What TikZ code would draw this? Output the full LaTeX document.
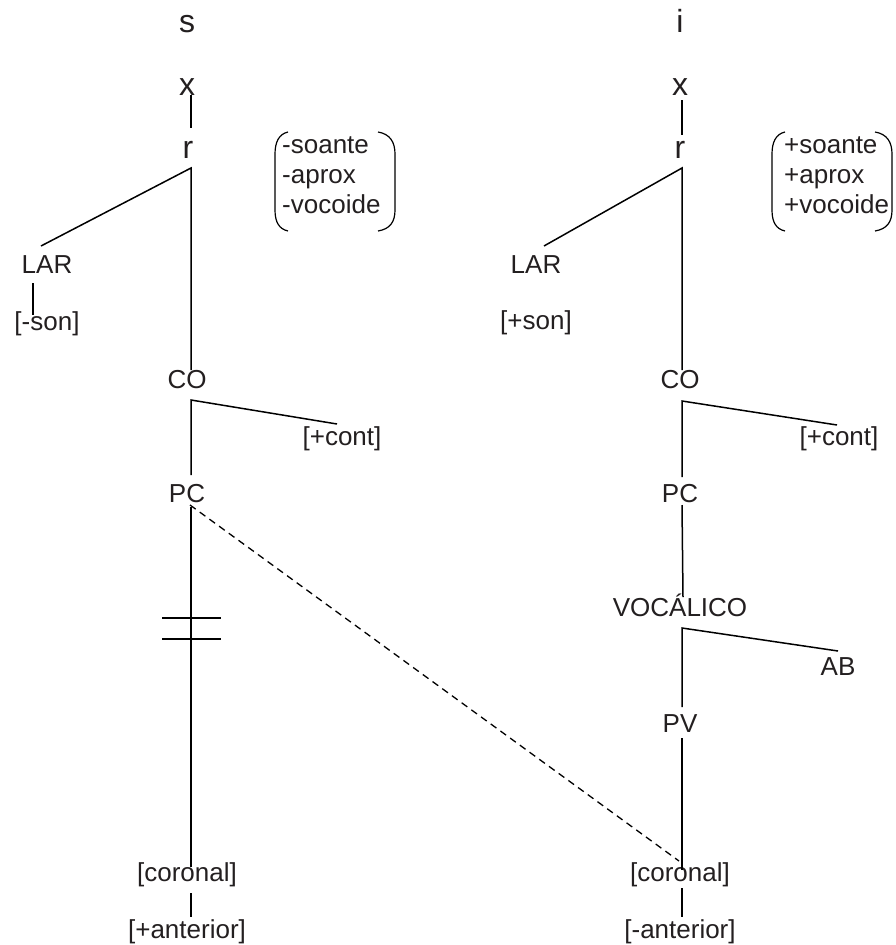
\documentclass[tikz,border=0pt]{standalone}
\usepackage{fontspec}
\setmainfont{Liberation Sans}

\definecolor{tinta}{HTML}{231F20}
\tikzset{
  seg/.style={font=\fontsize{32}{36}\selectfont, inner sep=0, anchor=base, text=tinta},
  traco/.style={font=\fontsize{26}{30}\selectfont, inner sep=0, anchor=base, text=tinta},
  ramo/.style={line width=1.5pt, line join=miter},
}

\begin{document}
\begin{tikzpicture}[x=1pt,y=-1pt]
\useasboundingbox (0,0) rectangle (896,945);

% Segmentos e esqueleto
\node[seg] (sl) at (187,32) {s};
\node[seg] (si) at (680,32) {i};
\node[seg] (xl) at (187,95) {x};
\node[seg] (xr) at (680,95) {x};
\node[seg] (rl) at (188,158) {r};
\node[seg] (rr) at (680,158) {r};

% Tracos de raiz entre parenteses
\node[traco, anchor=base west] (raizl) at (282,153) {\begin{tabular}[t]{@{}l@{}}-soante\\-aprox\\-vocoide\end{tabular}};
\node[traco, anchor=base west] (raizr) at (784,153) {\begin{tabular}[t]{@{}l@{}}+soante\\+aprox\\+vocoide\end{tabular}};
\foreach \a/\b in {275/395,772/892}{
\draw[line width=1.2pt] (\a+13,132) .. controls (\a+4,134) and (\a,142) .. (\a,154) -- (\a,210) .. controls (\a,222) and (\a+4,229) .. (\a+13,231);
\draw[line width=1.2pt] (\b-17,132) .. controls (\b-5,134) and (\b,142) .. (\b,154) -- (\b,210) .. controls (\b,222) and (\b-5,229) .. (\b-17,231);
}

% Arvore de s
\node[traco] (larl) at (47,273) {LAR};
\node[traco] (sonl) at (47,330) {[-son]};
\node[traco] (col) at (187,388) {CO};
\node[traco] (contl) at (342,445) {[+cont]};
\node[traco] (pcl) at (187,502) {PC};
\node[traco] (coronl) at (187,881) {[coronal]};
\node[traco] (antl) at (187,938) {[+anterior]};

\draw[ramo] ([shift={(4,0)}]xl.base) -- ([shift={(3,-30)}]rl.base);
\draw[ramo] ([shift={(-6,-27)}]larl.base) -- ([shift={(3,10)}]rl.base) -- ([shift={(4,-18)}]col.base);
\draw[ramo] ([shift={(-14,10)}]larl.base) -- ([shift={(-14,-15)}]sonl.base);
\draw[ramo] ([shift={(-5,-21)}]contl.base) -- ([shift={(4,12)}]col.base) -- ([shift={(4,-27)}]pcl.base);
\draw[ramo] ([shift={(4,5)}]pcl.base) -- ([shift={(4,-14)}]coronl.base);
\draw[ramo] ([shift={(4,12)}]coronl.base) -- ([shift={(4,-21)}]antl.base);

% Desligamento
\draw[ramo] (162,618) -- (221,618);
\draw[ramo] (162,639) -- (221,639);

% Arvore de i
\node[traco] (larr) at (536,273) {LAR};
\node[traco] (sonr) at (536,329) {[+son]};
\node[traco] (cor) at (680,388) {CO};
\node[traco] (contr) at (839,445) {[+cont]};
\node[traco] (pcr) at (680,502) {PC};
\node[traco] (vocr) at (680,616) {VOCÁLICO};
\node[traco] (abr) at (838,675) {AB};
\node[traco] (pvr) at (680,732) {PV};
\node[traco] (coronr) at (680,881) {[coronal]};
\node[traco] (antr) at (680,938) {[-anterior]};

\draw[ramo] ([shift={(2,5)}]xr.base) -- ([shift={(2,-23)}]rr.base);
\draw[ramo] ([shift={(8,-27)}]larr.base) -- ([shift={(2,10)}]rr.base) -- ([shift={(2,-18)}]cor.base);
\draw[ramo] ([shift={(-2,-20)}]contr.base) -- ([shift={(2,13)}]cor.base) -- ([shift={(2,-25)}]pcr.base);
\draw[ramo] ([shift={(2,3)}]pcr.base) -- ([shift={(3,-19)}]vocr.base);
\draw[ramo] ([shift={(0,-24)}]abr.base) -- ([shift={(2,12)}]vocr.base) -- ([shift={(2,-25)}]pvr.base);
\draw[ramo] ([shift={(2,6)}]pvr.base) -- ([shift={(2,-11)}]coronr.base);
\draw[ramo] ([shift={(2,7)}]coronr.base) -- ([shift={(2,-21)}]antr.base);

% Espraiamento do ponto de C
\draw[line width=1.3pt, dash pattern=on 7pt off 5pt] ([shift={(3,3)}]pcl.base) -- ([shift={(-1,-20)}]coronr.base);

\end{tikzpicture}
\end{document}
